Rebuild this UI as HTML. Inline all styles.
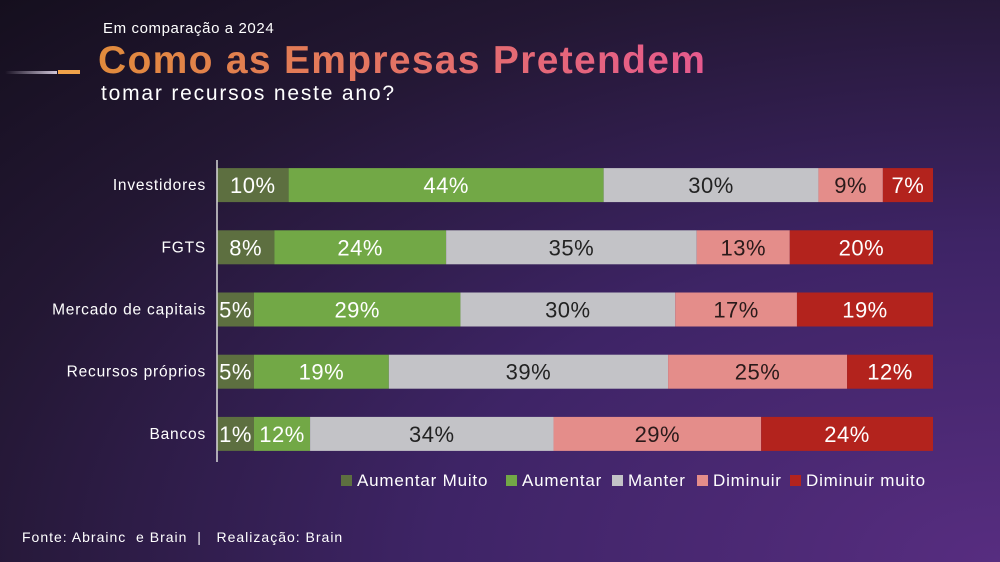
<!DOCTYPE html>
<html><head><meta charset="utf-8"><style>
html,body{margin:0;padding:0}
body{width:1000px;height:562px;overflow:hidden;position:relative;font-family:"Liberation Sans","DejaVu Sans",sans-serif;
background:radial-gradient(ellipse at 100% 100%,#572d80 0%,#3e2466 40%,#231733 75%,#150f1e 100%);}
.t{position:absolute;color:#fff;white-space:nowrap}
</style></head><body>
<div class="t" style="left:103px;top:20px;font-size:15px;letter-spacing:0.6px">Em comparação a 2024</div>
<div class="t" style="left:98px;top:39px;font-size:39px;letter-spacing:1.3px;font-weight:bold;background:linear-gradient(90deg,#e18b3c,#e65a8e);-webkit-background-clip:text;background-clip:text;color:transparent">Como as Empresas Pretendem</div>
<div class="t" style="left:101px;top:82px;font-size:21px;letter-spacing:1.8px">tomar recursos neste ano?</div>
<div style="position:absolute;left:5px;top:71px;width:52px;height:3px;background:linear-gradient(90deg,rgba(255,255,255,0),#cfc5d8)"></div>
<div style="position:absolute;left:58px;top:70px;width:22px;height:4px;background:#f0a24a"></div>
<div class="t" style="left:22px;top:529px;font-size:14px;letter-spacing:1px">Fonte: Abrainc &nbsp;e Brain &nbsp;| &nbsp; Realização: Brain</div>
<svg id="chart" width="1000" height="562" style="position:absolute;left:0;top:0"></svg>
<script>
const categories=["Investidores","FGTS","Mercado de capitais","Recursos próprios","Bancos"];
const seriesNames=["Aumentar Muito","Aumentar","Manter","Diminuir","Diminuir muito"];
const aumentarMuito=[10,8,5,5,1];
const aumentar=[44,24,29,19,12];
const manter=[30,35,30,39,34];
const diminuir=[9,13,17,25,29];
const diminuirMuito=[7,20,19,12,24];
const series=[aumentarMuito,aumentar,manter,diminuir,diminuirMuito];
const colors=["#5d6f40","#72a846","#c3c3c7","#e48d8a","#b3231d"];
const textColors=["#fff","#fff","#222","#2a1a1a","#fff"];
const NS="http://www.w3.org/2000/svg";
const svg=document.getElementById('chart');
const x0=217,W=716,yTop=154,rowH=62.2,barH=34,minW=37;
const xs=v=>x0+v/100*W;
const yc=i=>yTop+rowH*i+rowH/2;
function mk(t,a){const e=document.createElementNS(NS,t);for(const k in a)e.setAttribute(k,a[k]);svg.appendChild(e);return e;}
const labels=[];
categories.forEach((c,i)=>{
  let total=0;series.forEach(s=>total+=s[i]);
  let cum=0,xa=x0;
  series.forEach((s,j)=>{
    const v=s[i]/total*100;
    let xb=xs(cum+v);
    if(xb-xa<minW) xb=xa+minW;
    const r=mk('rect',{x:xa,y:yc(i)-barH/2,width:Math.max(0,xb-xa),height:barH,fill:colors[j]});
    
    
    labels.push([(xa+xb)/2,yc(i)+8,textColors[j],s[i]+'%']);
    cum+=v;xa=xb;
  });
  const l=mk('text',{x:206,y:yc(i)+5,'text-anchor':'end','font-size':15.5,'letter-spacing':0.8,fill:'#fff'});
  l.textContent=c;
  
  
});
labels.forEach(L=>{
  const t=mk('text',{x:L[0],y:L[1],'text-anchor':'middle','font-size':22,'letter-spacing':0.5,fill:L[2]});
  t.textContent=L[3];
  
  
});
const ax=mk('line',{x1:x0,x2:x0,y1:160,y2:462,stroke:'#d8d8d8','stroke-width':1.5});


const legX=[341,506,612,697,790];
seriesNames.forEach((n,j)=>{
  const r=mk('rect',{x:legX[j],y:475,width:11,height:11,fill:colors[j]});
  
  
  const t=mk('text',{x:legX[j]+16,y:486,'font-size':17,'letter-spacing':0.8,fill:'#fff'});
  t.textContent=n;
  
  
});
</script>
</body></html>
